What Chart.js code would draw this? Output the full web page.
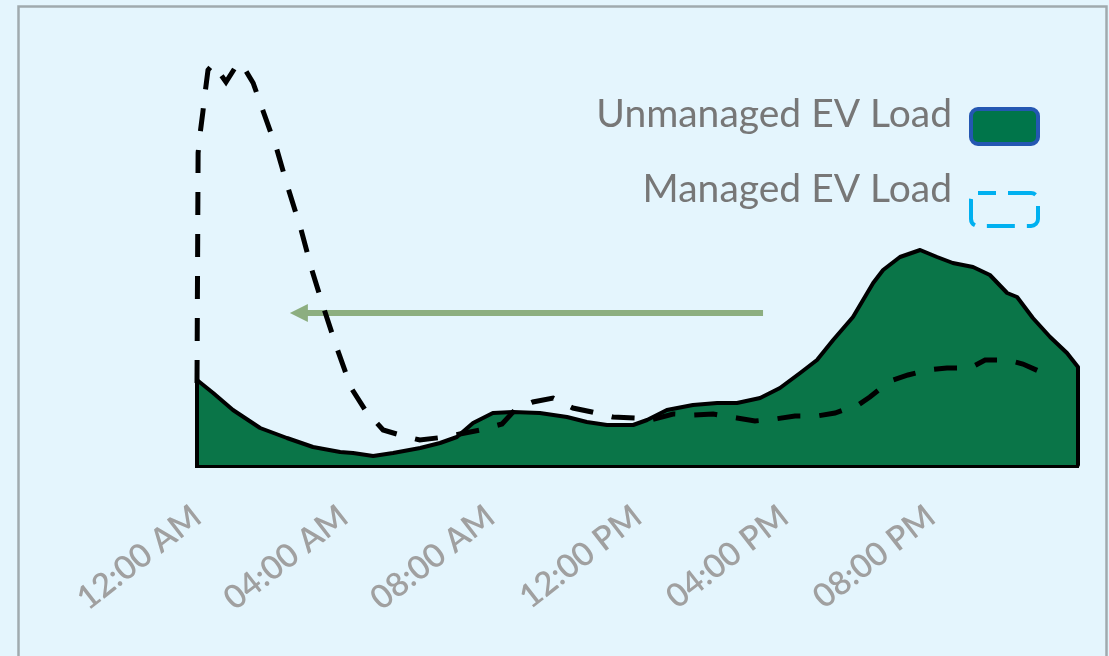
<!DOCTYPE html>
<html><head><meta charset="utf-8">
<script src="https://cdn.jsdelivr.net/npm/chart.js@4.4.0/dist/chart.umd.min.js"></script>
<style>html,body{margin:0;padding:0;background:#e4f5fd;}#wrap{width:1109px;height:656px;}</style>
</head><body><div id="wrap"><canvas id="c" width="1109" height="656"></canvas></div>
<script>
const tickLabels = ['12:00 AM','04:00 AM','08:00 AM','12:00 PM','04:00 PM','08:00 PM'];
const legendLabels = ['Unmanaged EV Load','Managed EV Load'];

const unmanagedHours = [0, 0, 0.44, 0.98, 1.72, 2.45, 3.16, 3.90, 4.25, 4.80, 5.34, 6.08, 6.62, 7.08, 7.52, 8.06, 8.61, 9.34, 10.08, 10.62, 11.17, 11.88, 12.26, 12.80, 13.51, 14.17, 14.71, 15.34, 15.88, 16.43, 16.89, 17.33, 17.87, 18.42, 18.69, 19.15, 19.70, 20.16, 20.59, 21.14, 21.60, 22.07, 22.34, 22.77, 23.24, 23.70, 24, 24];
const unmanagedLoad  = [0, 21.25, 18, 13.75, 9.25, 6.75, 4.5, 3.25, 3, 2.25, 3, 4.25, 5.5, 7, 10.5, 13, 13.25, 13, 12, 10.75, 10, 10, 11.25, 13.75, 15, 15.5, 15.5, 16.75, 19.25, 23, 26.25, 31.25, 37, 45.5, 48.75, 52, 53.75, 52, 50.5, 49.5, 47.5, 43, 42, 36.75, 32, 28, 24.5, 0];

const managedHours = [0, 0.03, 0.08, 0.16, 0.22, 0.30, 0.44, 0.79, 1.12, 1.30, 1.53, 1.80, 2.18, 2.48, 2.83, 3.13, 3.46, 3.81, 4.20, 4.58, 5.07, 5.53, 6.07, 6.76, 7.16, 7.71, 8.31, 8.66, 9.15, 9.70, 10.24, 10.76, 11.33, 11.93, 12.26, 12.97, 13.51, 14.06, 14.71, 15.20, 15.75, 16.29, 16.89, 17.38, 18.01, 18.33, 18.88, 19.37, 19.91, 20.43, 21.06, 21.47, 22.07, 22.50, 23.05];
const managedLoad  = [20.5, 78, 82.5, 88.25, 93, 98.75, 100.25, 95.75, 100.5, 99, 95.5, 88.5, 78.75, 69.25, 59, 48.75, 39, 29.25, 19.25, 13.75, 8.75, 7.5, 6.25, 7, 7.75, 8.75, 10.25, 13.75, 15.75, 16.75, 14.25, 13.25, 12, 11.75, 11, 12.75, 12.5, 12.75, 11.75, 11, 11.5, 12.25, 12.25, 13, 15, 17, 21, 22.5, 23.75, 24.25, 24.25, 26.25, 26.25, 25.25, 23];

const arrowHours = [15.42, 2.53];
const arrowLoad = 38;

const toPts = (xs, ys) => xs.map((x, i) => ({x: x, y: ys[i]}));

const framePlugin = {
  id: 'frame',
  beforeDraw(chart) {
    const c = chart.ctx;
    c.save();
    c.fillStyle = '#e4f5fd';
    c.fillRect(0, 0, chart.width, chart.height);
    c.strokeStyle = '#a0aaae';
    c.lineWidth = 2.5;
    c.strokeRect(18.5, 6.5, 1088, 700);
    c.restore();
  }
};

const arrowPlugin = {
  id: 'arrow',
  beforeDatasetsDraw(chart) {
    const xs = chart.scales.x, ys = chart.scales.y;
    const x1 = xs.getPixelForValue(arrowHours[0]);
    const x2 = xs.getPixelForValue(arrowHours[1]);
    const y = ys.getPixelForValue(arrowLoad);
    const c = chart.ctx;
    c.save();
    c.strokeStyle = '#8cae80';
    c.lineWidth = 6;
    c.beginPath();
    c.moveTo(x1, y);
    c.lineTo(x2 + 14, y);
    c.stroke();
    c.fillStyle = '#8cae80';
    c.beginPath();
    c.moveTo(x2, y);
    c.lineTo(x2 + 18, y - 9);
    c.lineTo(x2 + 18, y + 9);
    c.closePath();
    c.fill();
    c.restore();
  }
};

const legendPlugin = {
  id: 'customLegend',
  afterDraw(chart) {
    const c = chart.ctx;
    c.save();
    c.font = '39px Lato';
    c.fillStyle = '#777777';
    c.textAlign = 'right';
    c.textBaseline = 'alphabetic';
    c.fillText(legendLabels[0], 952, 127);
    c.fillText(legendLabels[1], 952, 202);
    c.beginPath();
    c.roundRect(971, 109, 67, 35, 7);
    c.fillStyle = '#00754a';
    c.fill();
    c.strokeStyle = '#2457b2';
    c.lineWidth = 4;
    c.stroke();
    c.beginPath();
    c.roundRect(971, 193, 67, 33, 7);
    c.strokeStyle = '#00b0f0';
    c.lineWidth = 4;
    c.setLineDash([28, 12]);
    c.lineDashOffset = 10;
    c.stroke();
    c.restore();
  }
};

new Chart(document.getElementById('c'), {
  type: 'line',
  data: {
    datasets: [
      {
        label: legendLabels[1],
        data: toPts(managedHours, managedLoad),
        borderColor: '#000',
        borderWidth: 5,
        borderDash: [23, 19],
        fill: false,
        pointRadius: 0,
        tension: 0,
        order: 0,
        clip: false
      },
      {
        label: legendLabels[0],
        data: toPts(unmanagedHours, unmanagedLoad),
        borderColor: '#000',
        backgroundColor: '#0a7548',
        borderWidth: 4,
        borderJoinStyle: 'round',
        fill: 'origin',
        pointRadius: 0,
        tension: 0,
        order: 1,
        clip: false
      }
    ]
  },
  options: {
    responsive: false,
    animation: false,
    events: [],
    layout: {padding: {left: 197, right: 31, top: 45, bottom: 0}},
    plugins: {legend: {display: false}, tooltip: {enabled: false}},
    scales: {
      x: {
        type: 'linear',
        min: 0,
        max: 24,
        grid: {display: false, drawTicks: false},
        border: {display: true, color: '#000', width: 5},
        ticks: {
          stepSize: 4,
          autoSkip: false,
          minRotation: 38,
          maxRotation: 38,
          padding: 32,
          color: '#a0a0a0',
          font: {family: 'Lato', size: 33, weight: '600'},
          callback: (v, i) => tickLabels[i] ?? ''
        },
        afterFit: (s) => { s.height = 191; s.paddingRight = 0; s.paddingLeft = 0; }
      },
      y: {
        display: false,
        min: 0,
        max: 105
      }
    }
  },
  plugins: [framePlugin, arrowPlugin, legendPlugin]
});
</script>
</body></html>
